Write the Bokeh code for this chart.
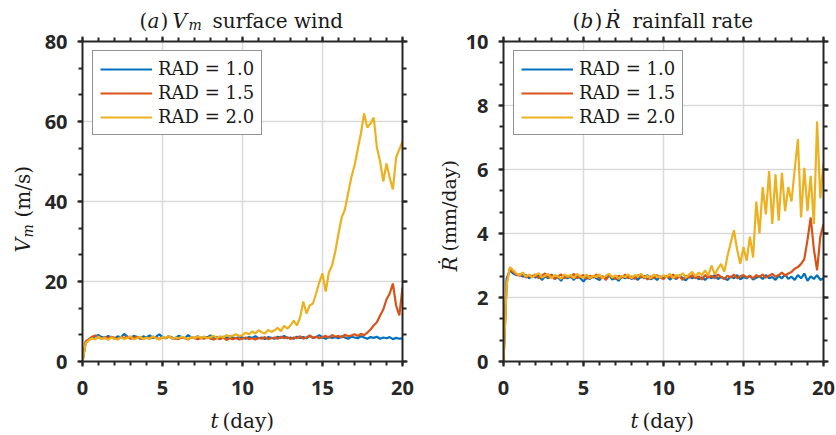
from bokeh.plotting import figure
from bokeh.models import (Range1d, SingleIntervalTicker, LinearAxis, Label,
                          Legend, LegendItem, CustomJSTickFormatter)
from bokeh.layouts import row, column
from bokeh.embed import file_html
from bokeh.resources import INLINE
import math

# time grid (day), step 0.2
days = [round(0.2 * i, 1) for i in range(101)]

# ---- (a) Vm surface wind (m/s) ----
vm_rad10 = [
    0.0, 4.8, 5.4, 5.9, 6.3, 6.6, 6.1, 5.8, 6.4, 6.0,
    5.7, 6.3, 6.0, 6.9, 6.2, 5.8, 6.4, 6.1, 5.7, 6.3,
    6.0, 6.5, 5.9, 6.2, 6.8, 6.1, 5.8, 6.3, 6.0, 5.7,
    6.4, 6.1, 5.8, 6.6, 6.0, 5.9, 6.3, 5.8, 6.2, 6.0,
    6.5, 5.9, 6.1, 5.7, 6.2, 5.9, 6.3, 6.0, 5.8, 6.2,
    6.0, 5.7, 6.1, 5.9, 6.3, 5.8, 6.0, 5.6, 6.1, 5.9,
    5.7, 6.2, 5.9, 6.4, 5.8, 6.0, 5.7, 6.2, 5.9, 6.1,
    5.8, 6.4, 5.9, 6.1, 6.6, 6.0, 5.7, 6.2, 5.9, 6.1,
    5.8, 6.3, 6.0, 5.7, 6.2, 6.0, 5.8, 6.3, 6.0, 5.7,
    6.1, 5.9, 6.2, 5.7, 6.0, 5.8, 6.1, 5.6, 5.9, 5.7,
    5.8]
vm_rad15 = [
    0.0, 5.0, 5.6, 6.2, 6.5, 6.0, 5.7, 6.1, 5.8, 6.2,
    5.9, 5.6, 6.1, 5.8, 6.3, 5.7, 5.9, 6.2, 5.8, 5.6,
    6.0, 5.7, 6.2, 5.9, 5.6, 6.0, 5.8, 6.3, 5.7, 5.9,
    5.6, 6.0, 5.8, 5.5, 6.1, 5.8, 5.6, 5.9, 5.7, 6.0,
    5.7, 5.5, 5.9, 5.6, 6.0, 5.4, 5.8, 5.6, 5.9, 5.5,
    5.7, 6.0, 5.6, 5.8, 5.5, 5.9, 5.7, 6.1, 5.6, 5.8,
    6.0, 5.7, 6.2, 5.8, 6.1, 5.6, 6.0, 5.8, 6.3, 5.7,
    6.0, 6.5, 5.9, 6.2, 5.8, 6.1, 6.4, 5.9, 6.6, 6.2,
    6.4, 6.0, 6.7, 6.3, 6.5, 6.8, 6.4, 6.9, 6.6, 7.2,
    8.0, 9.0, 9.8, 11.5, 13.0, 15.5, 17.0, 19.5, 14.0, 11.5,
    18.5]
vm_rad20 = [
    0.0, 4.6, 5.3, 5.8, 5.5, 6.2, 5.6, 5.9, 5.4, 6.0,
    5.7, 5.5, 6.1, 5.6, 5.9, 6.3, 5.5, 5.8, 6.2, 5.6,
    6.0, 5.7, 6.3, 5.8, 5.5, 6.1, 5.9, 6.4, 5.7, 6.0,
    5.8, 6.2, 5.9, 5.6, 6.1, 5.8, 6.3, 5.9, 6.2, 5.8,
    6.1, 6.4, 5.9, 6.3, 6.0, 6.6, 6.2, 6.5, 6.8, 6.3,
    6.6, 7.2, 6.8, 7.5, 7.0, 7.8, 7.3, 7.0, 7.9, 7.4,
    7.8, 8.4, 7.6, 8.9, 8.2, 9.0, 10.2, 9.0, 11.0, 15.0,
    12.0, 14.0, 14.5, 17.0, 19.8, 22.0, 17.5, 22.3, 24.0, 27.5,
    32.0, 36.0, 38.0, 42.0, 46.0, 49.0, 53.0, 57.0, 62.0, 58.5,
    59.5, 61.0, 53.5, 50.0, 45.0, 49.5, 46.0, 43.0, 51.0, 53.0,
    55.0]

# ---- (b) rainfall rate (mm/day) ----
rr_rad10 = [
    0.0, 2.6, 2.85, 2.75, 2.7, 2.72, 2.65, 2.7, 2.6, 2.68,
    2.62, 2.7, 2.55, 2.66, 2.6, 2.72, 2.58, 2.64, 2.52, 2.68,
    2.6, 2.66, 2.55, 2.7, 2.6, 2.5, 2.64, 2.58, 2.68, 2.6,
    2.55, 2.66, 2.6, 2.7, 2.56, 2.62, 2.52, 2.66, 2.6, 2.68,
    2.58, 2.64, 2.55, 2.68, 2.6, 2.7, 2.57, 2.63, 2.55, 2.66,
    2.6, 2.68, 2.56, 2.64, 2.58, 2.7, 2.6, 2.54, 2.66, 2.6,
    2.68, 2.57, 2.63, 2.55, 2.66, 2.6, 2.7, 2.58, 2.64, 2.6,
    2.55, 2.66, 2.6, 2.7, 2.57, 2.64, 2.6, 2.68, 2.56, 2.62,
    2.66, 2.58, 2.7, 2.6, 2.64, 2.55, 2.68, 2.6, 2.72, 2.58,
    2.65, 2.55, 2.7, 2.6, 2.75, 2.52, 2.66, 2.58, 2.7, 2.55,
    2.6]
rr_rad15 = [
    0.0, 2.5, 2.9, 2.8, 2.72, 2.68, 2.74, 2.62, 2.7, 2.66,
    2.72, 2.6, 2.68, 2.75, 2.62, 2.7, 2.58, 2.66, 2.72, 2.6,
    2.68, 2.62, 2.74, 2.6, 2.66, 2.7, 2.58, 2.68, 2.62, 2.72,
    2.6, 2.66, 2.55, 2.7, 2.64, 2.58, 2.68, 2.62, 2.72, 2.6,
    2.66, 2.58, 2.7, 2.62, 2.68, 2.56, 2.66, 2.6, 2.7, 2.62,
    2.58, 2.68, 2.62, 2.72, 2.6, 2.66, 2.55, 2.68, 2.62, 2.7,
    2.6, 2.66, 2.56, 2.7, 2.62, 2.68, 2.6, 2.72, 2.64, 2.58,
    2.68, 2.62, 2.72, 2.6, 2.66, 2.7, 2.62, 2.68, 2.6, 2.7,
    2.64, 2.72, 2.62, 2.68, 2.74, 2.65, 2.7, 2.78, 2.68, 2.75,
    2.8, 2.9, 2.95, 3.05, 3.2, 3.8, 4.5, 3.5, 2.85, 3.9,
    4.3]
rr_rad20 = [
    0.0, 2.4, 2.95, 2.85, 2.75, 2.7, 2.78, 2.65, 2.72, 2.62,
    2.7, 2.76, 2.62, 2.68, 2.74, 2.6, 2.7, 2.66, 2.58, 2.72,
    2.65, 2.7, 2.6, 2.74, 2.66, 2.62, 2.72, 2.6, 2.68, 2.64,
    2.72, 2.6, 2.68, 2.74, 2.62, 2.7, 2.58, 2.68, 2.64, 2.72,
    2.6, 2.7, 2.66, 2.74, 2.62, 2.68, 2.6, 2.72, 2.66, 2.62,
    2.7, 2.64, 2.74, 2.6, 2.7, 2.66, 2.76, 2.62, 2.72, 2.8,
    2.66, 2.78, 2.7, 2.85, 2.68, 3.0, 2.72, 2.9, 3.05, 2.8,
    3.3, 3.7, 4.1, 3.5, 3.05, 3.57, 3.15, 3.9, 3.25, 5.0,
    4.0, 5.45, 4.6, 5.95, 4.3, 5.85, 4.4, 5.9, 4.7, 5.45,
    5.0, 6.0, 6.95, 4.5, 6.05, 4.7, 5.8, 4.3, 7.5, 5.1,
    6.2]

series_labels = ["RAD = 1.0", "RAD = 1.5", "RAD = 2.0"]
colors = ["#0072BD", "#D95319", "#EDB120"]

DARK = "#262626"
TXT = "#1a1a1a"
SERIF = "DejaVu Serif"
TICKFONT = "Open Sans"

TITLE_H = 32
MAIN_H = 375     # 9 top + 320 frame + 46 bottom
XLAB_H = 28


def style_axis(ax, interval, nminor, show_labels=True, standoff=10):
    ax.ticker = SingleIntervalTicker(interval=interval, num_minor_ticks=nminor)
    ax.axis_line_color = DARK
    ax.axis_line_width = 2
    ax.major_tick_line_color = DARK
    ax.major_tick_line_width = 2
    ax.minor_tick_line_color = DARK
    ax.minor_tick_line_width = 2
    ax.major_tick_in = 0
    ax.major_tick_out = 5
    ax.minor_tick_in = 0
    ax.minor_tick_out = 4
    if show_labels:
        ax.major_label_text_font = TICKFONT
        ax.major_label_text_font_style = "bold"
        ax.major_label_text_font_size = "20px"
        ax.major_label_text_color = DARK
        ax.major_label_standoff = standoff
    else:
        ax.formatter = CustomJSTickFormatter(code="return ''")
        ax.major_label_text_font_size = "0px"
        ax.major_label_standoff = 0


def text_fig(w, h):
    f = figure(width=w, height=h, output_backend="svg", toolbar_location=None,
               x_range=Range1d(0, w), y_range=Range1d(0, h),
               x_axis_type=None, y_axis_type=None,
               min_border=0)
    f.title.visible = False
    f.grid.visible = False
    f.outline_line_color = None
    f.background_fill_color = "white"
    f.border_fill_color = "white"
    return f


def add_text(p, x, y, text, size=20, style="normal", angle=0.0, baseline="alphabetic"):
    p.add_layout(Label(x=x, y=y, x_units="screen", y_units="screen", text=text,
                       text_font=SERIF, text_font_size=f"{size}px",
                       text_font_style=style, text_color=TXT,
                       text_align="left", text_baseline=baseline,
                       angle=angle))


def make_panel(ys, ymax, yint, yminor, width, bl, br):
    p = figure(width=width, height=MAIN_H, output_backend="svg", toolbar_location=None,
               x_range=Range1d(0, 20), y_range=Range1d(0, ymax),
               min_border_left=bl, min_border_right=br,
               min_border_top=9, min_border_bottom=46)
    p.title.visible = False
    p.outline_line_color = None
    p.background_fill_color = "white"
    p.border_fill_color = "white"
    style_axis(p.xaxis[0], 5, 5, standoff=14)
    style_axis(p.yaxis[0], yint, yminor, standoff=10)
    top = LinearAxis()
    style_axis(top, 5, 5, show_labels=False)
    right = LinearAxis()
    style_axis(right, yint, yminor, show_labels=False)
    p.add_layout(top, "above")
    p.add_layout(right, "right")
    for g in (p.xgrid[0], p.ygrid[0]):
        g.grid_line_color = "#d9d9d9"
        g.grid_line_width = 1.5
    p.xgrid[0].ticker = p.xaxis[0].ticker
    p.ygrid[0].ticker = p.yaxis[0].ticker
    items = []
    for y, c, lab in zip(ys, colors, series_labels):
        r = p.line(days, y, line_color=c, line_width=2.2)
        items.append(LegendItem(label=lab, renderers=[r]))
    leg = Legend(items=items, location=(10, 226), margin=0,
                 glyph_width=52, glyph_height=20, label_height=20,
                 label_standoff=6, padding=7, spacing=3,
                 label_text_font=SERIF, label_text_font_size="18px",
                 label_text_color=TXT,
                 border_line_color=DARK, border_line_width=1.5,
                 background_fill_color="white", background_fill_alpha=1.0)
    p.add_layout(leg)
    return p


rot = math.pi / 2
TY = 12      # title baseline (from bottom of title strip)
XY = 15      # x-label baseline (from bottom of strip)

# ---------- left panel ----------
p1 = make_panel([vm_rad10, vm_rad15, vm_rad20], 80, 20, 3, 381, 45, 16)
t1 = text_fig(418, TITLE_H)
add_text(t1, 139, TY, "(")
add_text(t1, 147, TY, "a", style="italic")
add_text(t1, 160, TY, ")")
add_text(t1, 172, TY, "V", style="italic")
add_text(t1, 188, TY - 4, "m", size=14, style="italic")
add_text(t1, 212, TY, "surface wind")

yl1 = text_fig(37, MAIN_H)
add_text(yl1, 10, 109, "V", style="italic", angle=rot, baseline="top")
add_text(yl1, 19, 124, "m", size=14, style="italic", angle=rot, baseline="top")
add_text(yl1, 10, 144, "(m/s)", angle=rot, baseline="top")

xl1 = text_fig(418, XLAB_H)
add_text(xl1, 210, XY, "t", style="italic")
add_text(xl1, 222, XY, "(day)")

# ---------- right panel ----------
p2 = make_panel([rr_rad10, rr_rad15, rr_rad20], 10, 2, 3, 374, 41, 13)
t2 = text_fig(418, TITLE_H)
add_text(t2, 154, TY, "(")
add_text(t2, 162, TY, "b", style="italic")
add_text(t2, 176, TY, ")")
add_text(t2, 187, TY, "\u1E58", style="italic")
add_text(t2, 214, TY, "rainfall rate")

yl2 = text_fig(44, MAIN_H)
add_text(yl2, 19, 90, "\u1E58", style="italic", angle=rot, baseline="top")
add_text(yl2, 19, 110, "(mm/day)", size=19, angle=rot, baseline="top")

xl2 = text_fig(418, XLAB_H)
add_text(xl2, 212, XY, "t", style="italic")
add_text(xl2, 224, XY, "(day)")

left = column(t1, row(yl1, p1), xl1)
right_col = column(t2, row(yl2, p2), xl2)
layout = row(left, right_col)
open("out.html", "w").write(file_html(layout, INLINE))
